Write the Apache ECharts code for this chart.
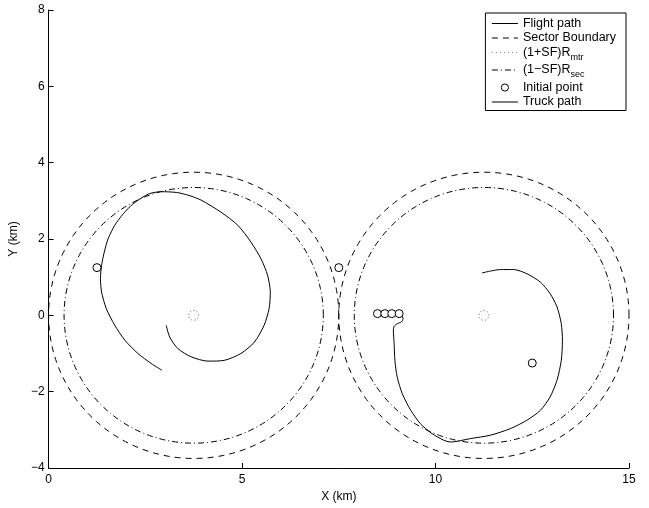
<!DOCTYPE html>
<html><head><meta charset="utf-8">
<script src="https://cdn.jsdelivr.net/npm/echarts@6/dist/echarts.min.js"></script>
<style>html,body{margin:0;padding:0;background:#fff}#c{width:649px;height:508px}</style>
</head><body><div id="c"></div>
<script>
// ---- data (km) ----
const xTicks = [0, 5, 10, 15];
const yTicks = [-4, -2, 0, 2, 4, 6, 8];
const sectorCenters = [[3.75, 0], [11.25, 0]];
const sectorRadius = 3.75;     // Sector Boundary
const secRadius = 3.35;        // (1-SF)R_sec
const mtrRadius = 0.13;        // (1+SF)R_mtr
const flightPath1 = [
  [2.93,-1.44],[2.65,-1.26],[2.31,-1.00],[1.97,-0.65],[1.71,-0.26],[1.49,0.18],[1.37,0.61],
  [1.34,0.96],[1.37,1.31],[1.44,1.66],[1.54,2.01],[1.71,2.36],[1.93,2.66],[2.18,2.92],
  [2.44,3.10],[2.61,3.19],[2.90,3.24],[3.30,3.22],[3.60,3.15],[3.94,3.02],[4.46,2.70],
  [4.89,2.36],[5.23,1.92],[5.49,1.48],[5.66,1.05],[5.73,0.61],[5.70,0.18],[5.57,-0.26],
  [5.32,-0.70],[4.97,-1.00],[4.54,-1.18],[4.12,-1.20],[3.69,-1.09],[3.34,-0.87],[3.13,-0.57],
  [3.04,-0.26]
];
const flightPath2 = [
  [9.14,0.00],[9.16,-0.09],[9.12,-0.17],[9.01,-0.22],[8.93,-0.29],[8.91,-0.39],[8.93,-0.74],
  [8.95,-1.18],[9.01,-1.62],[9.14,-2.05],[9.36,-2.49],[9.61,-2.84],[9.91,-3.10],[10.21,-3.27],
  [10.39,-3.32],[10.90,-3.23],[11.42,-3.14],[11.93,-2.97],[12.36,-2.75],[12.71,-2.49],
  [12.96,-2.14],[13.14,-1.70],[13.25,-1.18],[13.28,-0.65],[13.25,-0.22],[13.14,0.22],
  [12.96,0.57],[12.71,0.87],[12.36,1.09],[12.02,1.20],[11.68,1.20],[11.42,1.16],[11.20,1.11]
];
const initialPoints = [[1.25,1.25],[7.5,1.25],[12.5,-1.25],[8.50,0.045],[8.69,0.045],[8.87,0.045],[9.06,0.045]];
const truckPath = [];
const legendNames = ['Flight path','Sector Boundary','(1+SF)Rmtr','(1-SF)Rsec','Initial point','Truck path'];
const legendLabels = {
  'Flight path':'{m|Flight path}',
  'Sector Boundary':'{m|Sector Boundary}',
  '(1+SF)Rmtr':'{m|(1+SF)R}{s|mtr}',
  '(1-SF)Rsec':'{m|(1\u2212SF)R}{s|sec}',
  'Initial point':'{m|Initial point}',
  'Truck path':'{m|Truck path}'
};

const FONT = 'Liberation Sans, Arial, Helvetica, sans-serif';
const DASH = [6,5], DASHDOT = [6,3,1,3], DOT = [1,3];

function circleSeries(name, radius, dash, color) {
  return {
    name: name, type: 'custom', silent: true, clip: true,
    data: sectorCenters.map(c => [c[0], c[1], radius]),
    renderItem: function (params, api) {
      const cx = api.value(0), cy = api.value(1), r = api.value(2);
      const pts = [];
      const N = 180;
      for (let i = 0; i <= N; i++) {
        const a = 2 * Math.PI * i / N;
        pts.push(api.coord([cx + r * Math.cos(a), cy + r * Math.sin(a)]));
      }
      return { type: 'polyline', shape: { points: pts },
        style: { stroke: color, fill: null, lineWidth: 1, lineDash: dash } };
    }
  };
}
function legendLine(name, dash, color) {
  return { name: name, type: 'line', data: [], symbol: 'none',
    lineStyle: { color: color || '#000', width: 1, type: dash }, itemStyle: { color: color || '#000' } };
}
const hideSym = { opacity: 0 };

const chart = echarts.init(document.getElementById('c'), null, { renderer: 'canvas' });
chart.setOption({
  animation: false,
  backgroundColor: '#fff',
  grid: { left: 47, right: 20, top: 10, bottom: 40, containLabel: false },
  xAxis: {
    type: 'value', min: 0, max: 15, interval: 5,
    name: 'X (km)', nameLocation: 'middle', nameGap: 21,
    nameTextStyle: { fontFamily: FONT, fontSize: 12, color: '#000' },
    axisLine: { onZero: false, lineStyle: { color: '#000', width: 1 } },
    axisTick: { inside: true, length: 5, lineStyle: { color: '#000' } },
    axisLabel: { fontFamily: FONT, fontSize: 12, color: '#000', margin: 6,
      formatter: v => String(v).replace('-', '\u2212') },
    splitLine: { show: false }
  },
  yAxis: {
    type: 'value', min: -4, max: 8, interval: 2,
    name: 'Y (km)', nameLocation: 'middle', nameGap: 28, nameRotate: 90,
    nameTextStyle: { fontFamily: FONT, fontSize: 12, color: '#000' },
    axisLine: { onZero: false, lineStyle: { color: '#000', width: 1 } },
    axisTick: { inside: true, length: 5, lineStyle: { color: '#000' } },
    axisLabel: { fontFamily: FONT, fontSize: 12, color: '#000', margin: 4,
      formatter: v => String(v).replace('-', '\u2212') },
    splitLine: { show: false }
  },
  legend: {
    data: [
      { name: 'Flight path', itemStyle: hideSym },
      { name: 'Sector Boundary', itemStyle: hideSym },
      { name: '(1+SF)Rmtr', itemStyle: hideSym },
      { name: '(1-SF)Rsec', itemStyle: hideSym },
      { name: 'Initial point', itemStyle: { color: '#fff', borderColor: '#000', borderWidth: 1, opacity: 1 },
        lineStyle: { opacity: 0 } },
      { name: 'Truck path', itemStyle: hideSym }
    ],
    orient: 'vertical', right: 23, top: 13,
    backgroundColor: '#fff', borderColor: '#000', borderWidth: 1, borderRadius: 0,
    padding: [4, 10, 2, 6], itemGap: 1.5, itemWidth: 26, itemHeight: 9,
    lineStyle: { width: 1 },
    selectedMode: false,
    formatter: n => legendLabels[n],
    textStyle: { fontFamily: FONT, fontSize: 12.5, color: '#000',
      rich: {
        m: { fontFamily: FONT, fontSize: 12.5, color: '#000', lineHeight: 12 },
        s: { fontFamily: FONT, fontSize: 9, color: '#000', lineHeight: 10, padding: [5, 0, -5, 0] }
      } }
  },
  series: [
    circleSeries('sectorCircles', sectorRadius, DASH, '#000'),
    circleSeries('secCircles', secRadius, DASHDOT, '#000'),
    circleSeries('mtrCircles', mtrRadius, [1,2.5], '#444'),
    legendLine('Flight path', 'solid'),
    legendLine('Sector Boundary', DASH),
    legendLine('(1+SF)Rmtr', DOT, '#888'),
    legendLine('(1-SF)Rsec', DASHDOT),
    { name: 'flight1', type: 'line', data: flightPath1, symbol: 'none', smooth: 0.25,
      lineStyle: { color: '#000', width: 1 } },
    { name: 'flight2', type: 'line', data: flightPath2, symbol: 'none', smooth: 0.25,
      lineStyle: { color: '#000', width: 1 } },
    { name: 'Initial point', type: 'line', data: initialPoints, symbol: 'circle', symbolSize: 8,
      showSymbol: true, lineStyle: { opacity: 0, width: 0 },
      itemStyle: { color: '#fff', borderColor: '#000', borderWidth: 1 }, z: 5 },
    { name: 'Truck path', type: 'line', data: truckPath, symbol: 'none',
      lineStyle: { color: '#000', width: 1 }, itemStyle: { color: '#000' } }
  ]
});
</script>
</body></html>
